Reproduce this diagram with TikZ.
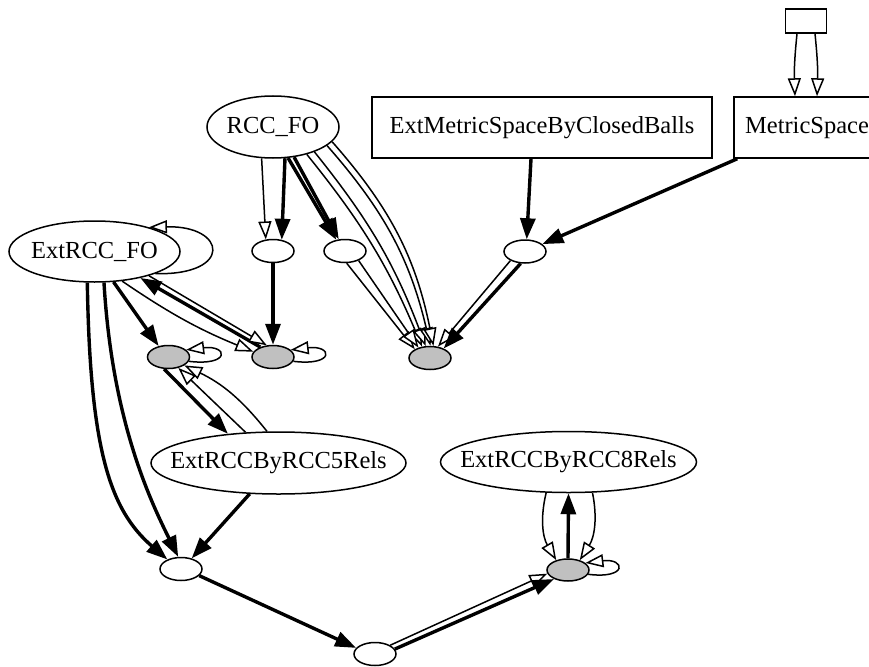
\documentclass[tikz,border=0pt]{standalone}
\usepackage{fontspec}
\setmainfont{Liberation Serif}
\usetikzlibrary{shapes.geometric,arrows.meta,calc}
\definecolor{nodegray}{RGB}{192,192,192}
\begin{document}
\begin{tikzpicture}[x=1pt,y=-1pt,
  every node/.style={draw, line width=1.5pt, inner sep=0pt, font=\fontsize{24.5}{28}\selectfont},
  oval/.style={ellipse},
  box/.style={rectangle},
  smalloval/.style={ellipse, minimum width=42pt, minimum height=23pt},
  grayoval/.style={smalloval, fill=nodegray},
  openedge/.style={line width=1.5pt, -{Triangle[open, fill=white, length=18pt, width=13pt]}},
  fulledge/.style={line width=3.4pt, -{Triangle[length=21pt, width=15pt]}},
]
\useasboundingbox (0,0) rectangle (869,666);

% nodes
\node[box, minimum width=41pt, minimum height=24pt] (top) at (806,21) {};
\node[box, minimum width=146pt, minimum height=61pt] (ms) at (807,127.5) {MetricSpace};
\node[box, minimum width=340pt, minimum height=61pt] (emsb) at (542,127.5) {ExtMetricSpaceByClosedBalls};
\node[oval, minimum width=132pt, minimum height=62pt] (rcc) at (273,127) {\makebox[0pt]{RCC\_FO}};
\node[oval, minimum width=171pt, minimum height=61pt] (ext) at (94.5,251.5) {\makebox[0pt]{ExtRCC\_FO}};
\node[smalloval] (n1) at (273,251) {};
\node[smalloval] (n2) at (345,251) {};
\node[smalloval] (n3) at (525,251.5) {};
\node[grayoval] (g1) at (168.5,357) {};
\node[grayoval] (g2) at (273,357) {};
\node[grayoval] (g3) at (430,358) {};
\node[oval, minimum width=255pt, minimum height=62pt] (r5) at (278.5,463) {\makebox[0pt]{ExtRCCByRCC5Rels}};
\node[oval, minimum width=256pt, minimum height=61pt] (r8) at (568.5,462) {\makebox[0pt]{ExtRCCByRCC8Rels}};
\node[grayoval, minimum height=22pt] (g4) at (568,570) {};
\node[smalloval] (b1) at (181,569) {};
\node[smalloval] (b2) at (375,654) {};

% top box into MetricSpace
\draw[openedge] ([xshift=-9pt]top.south) to[bend right=4] ([xshift=-12pt]ms.north);
\draw[openedge] ([xshift=9pt]top.south) to[bend left=4] ([xshift=10pt]ms.north);

% metric space boxes into n3
\draw[fulledge] ([xshift=-11pt]emsb.south) -- (n3.82);
\draw[fulledge] ([xshift=4pt]ms.south west) -- (n3.23);

% n3 into g3
\draw[openedge] (n3.212) -- (g3.55);
\draw[fulledge] (n3.250) -- (g3.35);

% RCC_FO into n1 and n2
\draw[openedge] (rcc.250) -- (n1.122);
\draw[fulledge] (rcc.291) -- (n1.52);
\draw[fulledge] (rcc.296) -- (n2.128);
\draw[fulledge] (rcc.305) -- (n2.118);

% RCC_FO into g3
\draw[openedge] (rcc.321) to[bend left=8] (g3.125);
\draw[openedge] (rcc.329) to[bend left=9] (g3.110);
\draw[openedge] (rcc.341) to[bend left=14] (g3.88);
\draw[openedge] (rcc.346) to[bend left=15] (g3.74);

% n2 into g3
\draw[openedge] (n2.278) -- (g3.150);
\draw[openedge] (n2.325) -- (g3.138);

% ExtRCC_FO
\draw[openedge] (ext.-20) .. controls +(78,2) and +(78,-2) .. (ext.24);
\draw[fulledge] (ext.-58) -- (g1.132);
\draw[openedge] (ext.-47) to[bend right=6] (g2.165);
\draw[fulledge] (g2.142) -- (ext.-30);
\draw[openedge] (ext.-24) -- (g2.118);

% n1 into g2
\draw[fulledge] (n1.south) -- (g2.north);

% self loops on g1 and g2
\draw[openedge] (g1.-12) .. controls +(42,5) and +(42,-5) .. (g1.22);
\draw[openedge] (g2.-12) .. controls +(42,5) and +(42,-5) .. (g2.22);

% g1 and ExtRCCByRCC5Rels
\draw[fulledge] (g1.250) -- (r5.150);
\draw[openedge] (r5.137) -- (g1.-48);
\draw[openedge] (r5.110) to[bend right=13] (g1.-28);

% into b1
\draw[fulledge] (ext.257) .. controls (90,450) and (110,510) .. (b1.145);
\draw[fulledge] (ext.287) .. controls (112,420) and (150,500) .. (b1.103);
\draw[fulledge] (r5.227) -- (b1.45);

% b1 to b2 to g4
\draw[fulledge] (b1.-20) -- (b2.162);
\draw[openedge] (b2.30) -- (g4.190);
\draw[fulledge] (b2.14) -- (g4.213);

% g4 and ExtRCCByRCC8Rels
\draw[fulledge] (g4.north) -- (r8.south);
\draw[openedge] (r8.234) to[bend right=22] (g4.140);
\draw[openedge] (r8.-52) to[bend left=22] (g4.40);
\draw[openedge] (g4.-12) .. controls +(40,5) and +(40,-5) .. (g4.22);
\end{tikzpicture}
\end{document}
